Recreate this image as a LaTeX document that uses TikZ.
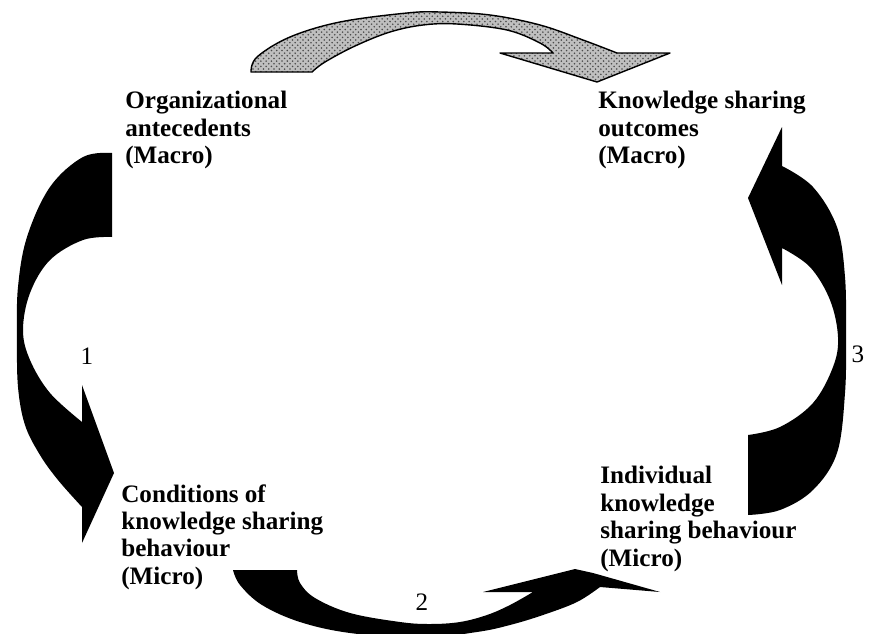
\documentclass[tikz,border=0pt]{standalone}
\usepackage{fontspec}
\setmainfont{Liberation Serif}
\usetikzlibrary{patterns}
\begin{document}
\begin{tikzpicture}[x=0.02cm,y=-0.02cm,
  lbl/.style={anchor=north west,inner sep=0pt,align=left,font=\fontsize{14.3}{15.6}\selectfont\bfseries},
  num/.style={inner sep=0pt,font=\fontsize{14.3}{15.6}\selectfont},
  blackarrow/.style={fill=black,draw=none},
  grayarrow/.style={preaction={fill=gray!50},pattern=crosshatch dots,pattern color=black!70,draw=black,line width=0.8pt,line join=round}]
\useasboundingbox (0,0) rectangle (880,633);
\clip (0,0) rectangle (880,633);

% top (gray) arrow
\path[grayarrow] (251,72) -- plot[smooth,tension=0.6] coordinates {(251,72) (257,57) (290,37) (340,22) (407,13) (440,12) (490,15) (540,25) (583,40) (617,53)}
  -- (670,53) -- (597,82) -- (500,53) -- (553,53)
  -- plot[smooth,tension=0.6] coordinates {(553,53) (540,43) (507,30) (457,24) (423,25) (390,32) (355,46) (325,62) (312,72)} -- cycle;

% left arrow 1
\path[blackarrow] (112,153) -- plot[smooth,tension=0.6] coordinates {(112,153) (83,157) (50,187) (27,237) (18,287) (17,337) (18,387) (25,425) (40,455) (58,480) (82,507)}
  -- (82,543) -- (114,473) -- (82,385) -- (82,422)
  -- plot[smooth,tension=0.6] coordinates {(82,422) (50,393) (30,360) (23,330) (30,293) (50,260) (83,240) (112,237)} -- cycle;

% bottom arrow 2
\path[blackarrow] (233,570) -- plot[smooth,tension=0.6] coordinates {(233,570) (240,585) (262,605) (300,622) (350,633) (420,638) (477,632) (510,625) (543,615) (577,602) (600,587)}
  -- (660,592) -- (593,573) -- (575,569) -- (483,592) -- (533,592)
  -- plot[smooth,tension=0.6] coordinates {(533,592) (510,605) (487,615) (460,622) (430,624) (400,622) (350,613) (315,598) (300,583) (297,570)} -- cycle;

% right arrow 3
\path[blackarrow] (748,515) -- plot[smooth,tension=0.6] coordinates {(748,515) (780,510) (813,490) (837,453) (845,393) (846,335) (845,277) (837,227) (813,187) (782,166)}
  -- (782,127) -- (748,198) -- (782,285) -- (782,248)
  -- plot[smooth,tension=0.6] coordinates {(782,248) (810,267) (830,300) (838,337) (833,367) (813,403) (780,427) (748,435)} -- cycle;

\node[lbl] (orga) at (125,91) {Organizational\\antecedents\\(Macro)};
\node[lbl] (ksho) at (598,91) {Knowledge sharing\\outcomes\\(Macro)};
\node[lbl] (cond) at (121,484) {Conditions of\\knowledge sharing\\behaviour\\(Micro)};
\node[lbl] (indi) at (600,466) {Individual\\knowledge\\sharing behaviour\\(Micro)};

\node[num] (n1) at (87,356) {1};
\node[num] (n2) at (422,602) {2};
\node[num] (n3) at (858,354) {3};
\end{tikzpicture}
\end{document}
